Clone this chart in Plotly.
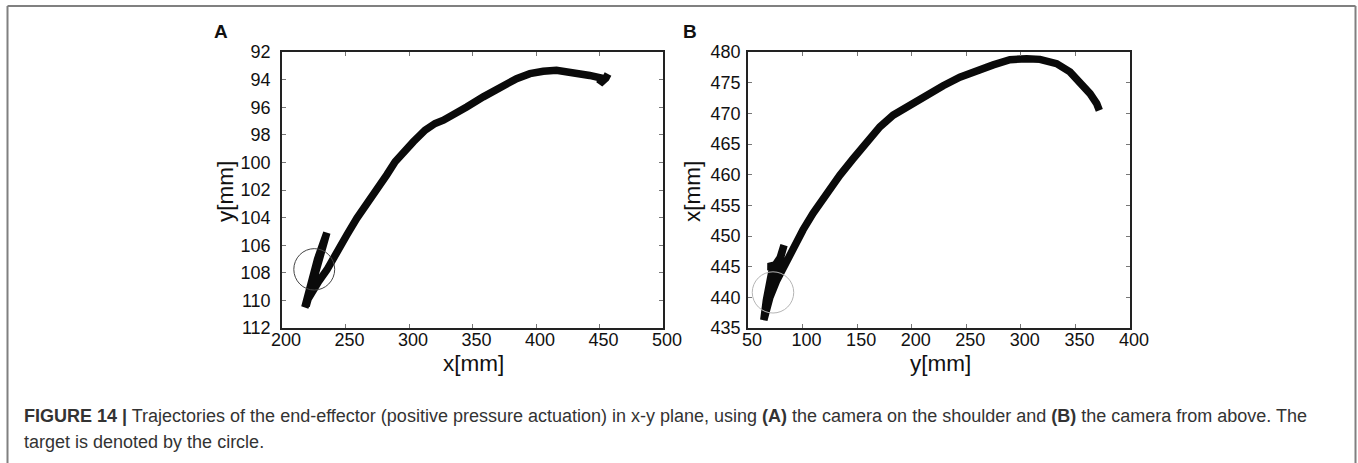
import plotly.graph_objects as go

# ---------------- data ----------------
# Panel A: camera on the shoulder (x[mm] vs y[mm])
a_x = [456.7, 455.0, 450.2, 452.0, 442.3, 426.6, 416.1, 405.7, 395.2, 384.7, 371.6,
       358.5, 345.4, 334.9, 327.1, 320.5, 312.7, 303.5, 295.6, 289.1, 282.5,
       274.7, 266.8, 258.9, 251.1, 243.2, 235.4, 228.8, 223.6, 220.5, 218.0,
       222.0, 228.0, 235.3, 230.0, 224.0, 219.0]
a_y = [93.6, 93.9, 94.3, 93.9, 93.7, 93.4, 93.33, 93.4, 93.57, 93.93, 94.53,
       95.25, 95.98, 96.58, 96.94, 97.18, 97.66, 98.5, 99.23, 99.95, 100.9,
       101.88, 102.96, 104.05, 105.25, 106.58, 107.78, 108.63, 109.35, 109.9, 110.5,
       108.9, 107.0, 105.1, 107.0, 109.0, 110.4]

# Panel B: camera from above (y[mm] vs x[mm])
b_y = [371.9, 369.5, 363.4, 355.7, 345.0, 332.8, 317.5, 305.3, 290.0, 274.7,
       259.4, 244.1, 228.8, 213.6, 198.3, 183.0, 170.8, 158.5, 146.3, 134.1,
       121.8, 109.6, 100.4, 91.3, 83.6, 76.0, 69.9, 65.3, 64.5,
       66.8, 70.0, 72.5, 68.5, 75.0, 79.5, 83.0, 80.5, 76.0, 70.0, 65.5]
b_x = [470.5, 471.6, 473.2, 474.85, 476.75, 478.1, 478.8, 478.9, 478.75, 477.9,
       477.0, 475.9, 474.5, 472.95, 471.3, 469.7, 467.8, 465.35, 462.6, 459.9,
       456.95, 453.7, 450.99, 448.0, 445.3, 442.6, 439.9, 437.4, 436.3,
       439.5, 442.0, 444.8, 445.0, 445.3, 446.5, 448.5, 446.5, 443.5, 440.5, 437.5]

# target circles (centre, radius in data units)
target_a = {"x": 225.4, "y": 107.75, "rx": 16.1, "ry": 1.5}
target_b = {"x": 72.9, "y": 440.8, "rx": 19.0, "ry": 3.36}

a_xticks = [200, 250, 300, 350, 400, 450, 500]
a_yticks = [92, 94, 96, 98, 100, 102, 104, 106, 108, 110, 112]
b_xticks = [50, 100, 150, 200, 250, 300, 350, 400]
b_yticks = [435, 440, 445, 450, 455, 460, 465, 470, 475, 480]

caption_1 = ("<b>FIGURE 14 |</b> Trajectories of the end-effector (positive pressure actuation) "
             "in x-y plane, using <b>(A)</b> the camera on the shoulder and <b>(B)</b> the camera "
             "from above. The")
caption_2 = "target is denoted by the circle."

# ---------------- figure ----------------
W, H = 1358, 463
FONT = "Liberation Sans, Arial, sans-serif"

fig = go.Figure()
fig.add_trace(go.Scatter(x=a_x, y=a_y, mode="lines", xaxis="x", yaxis="y",
                         line=dict(color="#0a0a0a", width=7.5), hoverinfo="skip",
                         showlegend=False))
fig.add_trace(go.Scatter(x=b_y, y=b_x, mode="lines", xaxis="x2", yaxis="y2",
                         line=dict(color="#0a0a0a", width=7.5), hoverinfo="skip",
                         showlegend=False))

def px_x(p):
    return p / W

def px_y(p):
    return 1 - p / H

axis_common = dict(showgrid=False, zeroline=False, showline=True, linecolor="#222",
                   linewidth=1.5, mirror="ticks", ticks="inside", ticklen=4,
                   tickwidth=1, tickcolor="#777", automargin=False,
                   tickfont=dict(family=FONT, size=18, color="#111"))

ydom = [px_y(328), px_y(52)]
fig.update_layout(
    template="none",
    width=W, height=H, margin=dict(l=0, r=0, t=0, b=0, pad=0, autoexpand=False),
    paper_bgcolor="white", plot_bgcolor="white", showlegend=False,
    xaxis=dict(domain=[px_x(282), px_x(663)], range=[200, 500], tickvals=a_xticks,
               anchor="y", ticklabelshift=4, ticklabelstandoff=-5, **axis_common),
    yaxis=dict(domain=ydom, range=[112, 92], tickvals=a_yticks, anchor="x",
               ticklabelstandoff=6, **axis_common),
    xaxis2=dict(domain=[px_x(748), px_x(1130)], range=[50, 400], tickvals=b_xticks,
                anchor="y2", ticklabelshift=4, ticklabelstandoff=-5, **axis_common),
    yaxis2=dict(domain=ydom, range=[435, 480], tickvals=b_yticks, anchor="x2",
                ticklabelstandoff=2, **axis_common),
)

shapes = []
for t, xr, yr, col in [(target_a, "x", "y", "#444"), (target_b, "x2", "y2", "#b5b5b5")]:
    shapes.append(dict(type="circle", xref=xr, yref=yr,
                       x0=t["x"] - t["rx"], x1=t["x"] + t["rx"],
                       y0=t["y"] - t["ry"], y1=t["y"] + t["ry"],
                       line=dict(color=col, width=1)))
# figure frame
frame_col = "#808080"
shapes += [
    dict(type="line", xref="paper", yref="paper", x0=px_x(7.5), x1=px_x(1355.5),
         y0=px_y(6), y1=px_y(6), line=dict(color=frame_col, width=2)),
    dict(type="line", xref="paper", yref="paper", x0=px_x(7.5), x1=px_x(7.5),
         y0=px_y(6), y1=-0.01, line=dict(color=frame_col, width=2)),
    dict(type="line", xref="paper", yref="paper", x0=px_x(1355.5), x1=px_x(1355.5),
         y0=px_y(6), y1=-0.01, line=dict(color=frame_col, width=2)),
]
fig.update_layout(shapes=shapes)

ann = []
def text(x, y, s, size, xanchor="center", angle=0, color="#111", bold=False):
    ann.append(dict(x=px_x(x), y=px_y(y), xref="paper", yref="paper", text=(f"<b>{s}</b>" if bold else s),
                    showarrow=False, xanchor=xanchor, yanchor="middle", textangle=angle,
                    font=dict(family=FONT, size=size, color=color)))

text(221, 31, "A", 19, bold=True)
text(690, 31, "B", 19, bold=True)
text(473, 363, "x[mm]", 22.5)
text(225, 192, "y[mm]", 22.5, angle=-90)
text(940, 363, "y[mm]", 22.5)
text(692, 192, "x[mm]", 22.5, angle=-90)
text(22, 416, caption_1, 18, xanchor="left", color="#333")
text(22, 442, caption_2, 18, xanchor="left", color="#333")
fig.update_layout(annotations=ann)

fig.write_html("out.html", config={"displayModeBar": False},
               post_script="document.body.style.margin='0';document.body.style.overflow='hidden';")
